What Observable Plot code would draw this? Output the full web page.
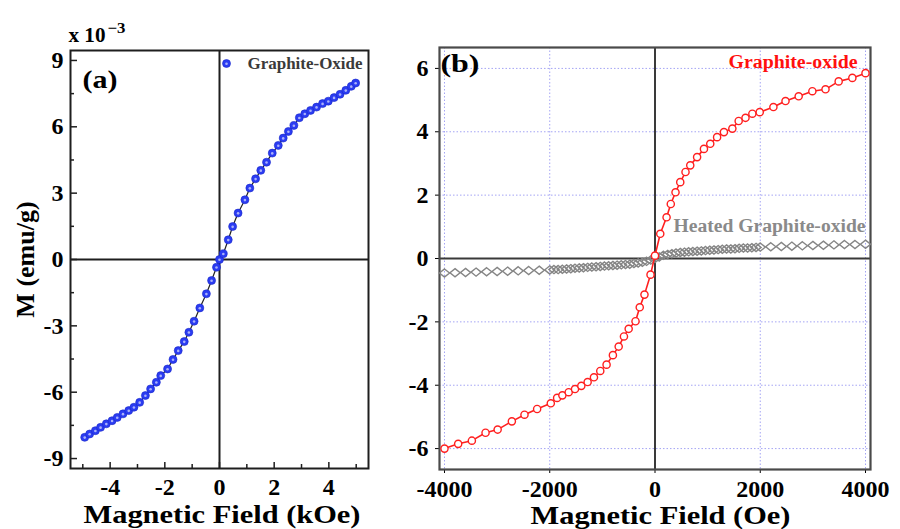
<!DOCTYPE html>
<html><head><meta charset="utf-8">
<script src="https://cdn.jsdelivr.net/npm/d3@7"></script>
<script src="https://cdn.jsdelivr.net/npm/@observablehq/plot@0.6"></script>
<style>
html,body{margin:0;padding:0;background:#fff;}
#wrap{position:relative;width:900px;height:529px;overflow:hidden;background:#fff;}
#pa{position:absolute;left:0;top:0;}
#pb{position:absolute;left:380px;top:0;}
</style></head><body><div id="wrap"><div id="pa"></div><div id="pb"></div></div>
<script>
// ---- Panel (a): Graphite-Oxide, field in kOe, M in 1e-3 emu/g
const aField = [-4.93,-4.75,-4.54,-4.35,-4.14,-3.93,-3.74,-3.53,-3.32,-3.13,-2.92,-2.71,-2.52,-2.31,-2.15,-1.90,-1.70,-1.51,-1.29,-1.12,-0.93,-0.72,-0.48,-0.29,-0.11,0,0.14,0.32,0.48,0.68,0.93,1.11,1.32,1.51,1.72,1.93,2.15,2.33,2.52,2.72,2.92,3.12,3.33,3.55,3.77,3.98,4.19,4.41,4.62,4.82,4.98];
const aM = [-8.04,-7.89,-7.74,-7.59,-7.43,-7.29,-7.14,-6.98,-6.83,-6.68,-6.46,-6.15,-5.85,-5.55,-5.25,-4.95,-4.52,-4.12,-3.71,-3.29,-2.79,-2.19,-1.55,-0.95,-0.35,0,0.26,0.89,1.49,2.10,2.70,3.23,3.65,4.03,4.40,4.81,5.16,5.49,5.79,6.06,6.41,6.59,6.74,6.89,7.05,7.16,7.32,7.47,7.65,7.83,7.98];
const aTicksX = [-4,-2,0,2,4];
const aMinorX = [-5,-3,-1,1,3,5];
const aTicksY = [-9,-6,-3,0,3,6,9];
const aMinorY = [-7.5,-4.5,-1.5,1.5,4.5,7.5];

// ---- Panel (b): field in Oe, M in emu/g
const goField = [-4000,-3740,-3480,-3220,-2990,-2720,-2480,-2240,-1980,-1860,-1760,-1640,-1520,-1400,-1280,-1160,-1040,-920,-800,-690,-590,-500,-370,-290,-200,-85,0,100,220,300,390,480,580,670,800,930,1050,1180,1310,1470,1590,1720,1850,1990,2250,2480,2730,2990,3240,3490,3750,4000];
const goM = [-6.00,-5.85,-5.75,-5.50,-5.40,-5.14,-4.93,-4.75,-4.57,-4.40,-4.32,-4.22,-4.12,-4.02,-3.90,-3.75,-3.55,-3.35,-3.05,-2.78,-2.46,-2.22,-1.98,-1.54,-1.14,-0.51,0.09,0.78,1.30,1.72,2.09,2.41,2.73,2.94,3.20,3.46,3.62,3.83,3.99,4.10,4.34,4.44,4.57,4.62,4.78,4.97,5.12,5.28,5.34,5.59,5.70,5.85];
const hgoField = [-4000,-3800,-3600,-3400,-3200,-3000,-2800,-2600,-2400,-2200,-2000,-1920,-1840,-1760,-1680,-1600,-1520,-1440,-1360,-1280,-1200,-1120,-1040,-960,-880,-800,-720,-640,-560,-480,-400,-320,-240,-160,-80,0,80,160,240,320,400,480,560,640,720,800,880,960,1040,1120,1200,1280,1360,1440,1520,1600,1680,1760,1840,1920,2000,2200,2400,2600,2800,3000,3200,3400,3600,3800,4000];
const hgoM = [-0.46,-0.45,-0.44,-0.43,-0.42,-0.41,-0.40,-0.39,-0.38,-0.37,-0.36,-0.35,-0.35,-0.34,-0.33,-0.32,-0.31,-0.30,-0.29,-0.28,-0.27,-0.26,-0.25,-0.24,-0.23,-0.22,-0.21,-0.20,-0.19,-0.18,-0.16,-0.14,-0.12,-0.09,-0.05,0,0.05,0.10,0.13,0.15,0.17,0.19,0.20,0.21,0.22,0.23,0.24,0.25,0.26,0.27,0.28,0.29,0.30,0.30,0.31,0.32,0.33,0.33,0.34,0.35,0.36,0.37,0.38,0.39,0.40,0.41,0.42,0.43,0.44,0.44,0.45];
const bTicksX = [-4000,-2000,0,2000,4000];
const bTicksY = [-6,-4,-2,0,2,4,6];

const FONT = "'Liberation Serif', 'Times New Roman', serif";
const fmt = d => String(d);

const aData = aField.map((x, i) => ({x, y: aM[i]}));
const goData = goField.map((x, i) => ({x, y: goM[i]}));
const hgoData = hgoField.map((x, i) => ({x, y: hgoM[i]}));

// a slightly wide open diamond, as in the reference
const wideDiamond = {
  draw(ctx, size) {
    const s = Math.sqrt(size / Math.PI);
    const w = s * 1.3, h = s * 1.05;
    ctx.moveTo(0, -h); ctx.lineTo(w, 0); ctx.lineTo(0, h); ctx.lineTo(-w, 0); ctx.closePath();
  }
};

// ---------- Panel (a)
const aW = 380, aH = 529, aML = 70, aMR = 12, aMT = 50, aMB = 61;
const aInnerW = aW - aML - aMR, aInnerH = aH - aMT - aMB;
const blue = "#2b3cf2";
const plotA = Plot.plot({
  width: aW, height: aH,
  marginLeft: aML, marginRight: aMR, marginTop: aMT, marginBottom: aMB,
  style: {fontFamily: FONT, fontSize: "24px", fontWeight: "bold", color: "#000", background: "#fff", overflow: "visible"},
  x: {domain: [-5.45, 5.45], ticks: aTicksX, tickSize: 0, tickPadding: 9, tickFormat: fmt, label: null},
  y: {domain: [-9.45, 9.45], ticks: aTicksY, tickSize: 0, tickPadding: 7, tickFormat: fmt, label: null},
  marks: [
    Plot.ruleX([0], {stroke: "#1e1e1e", strokeWidth: 2}),
    Plot.ruleY([0], {stroke: "#1e1e1e", strokeWidth: 2}),
    Plot.ruleY(aTicksY, {stroke: "#1e1e1e", strokeWidth: 1.5, insetRight: aInnerW - 7}),
    Plot.ruleY(aMinorY, {stroke: "#1e1e1e", strokeWidth: 1.5, insetRight: aInnerW - 4}),
    Plot.ruleX(aTicksX, {stroke: "#1e1e1e", strokeWidth: 1.5, insetTop: aInnerH - 6}),
    Plot.ruleX(aMinorX, {stroke: "#1e1e1e", strokeWidth: 1.5, insetTop: aInnerH - 4}),
    Plot.frame({stroke: "#1e1e1e", strokeWidth: 2}),
    Plot.line(aData, {x: "x", y: "y", stroke: "#222", strokeWidth: 1.2}),
    Plot.dot(aData, {x: "x", y: "y", r: 4, fill: blue, stroke: "#1a28c8", strokeWidth: 0.6}),
    Plot.dot(aData, {x: "x", y: "y", r: 1.3, fill: "#fff", fillOpacity: 0.6, dy: 0.3}),
    Plot.dot(["Graphite-Oxide"], {frameAnchor: "top-left", dx: 156, dy: 13, r: 4, fill: blue, stroke: "#1a28c8", strokeWidth: 0.6}),
    Plot.dot(["Graphite-Oxide"], {frameAnchor: "top-left", dx: 156, dy: 13.3, r: 1.3, fill: "#fff", fillOpacity: 0.6}),
    Plot.text(["Graphite-Oxide"], {text: d => d, frameAnchor: "top-left", dx: 177, dy: 13, textAnchor: "start", lineAnchor: "middle", fontSize: 16, fill: "#3a3a3a"}),
    Plot.text(["(a)"], {text: d => d, frameAnchor: "top-left", dx: 12, dy: 29, textAnchor: "start", lineAnchor: "middle", fontSize: 26, fill: "#000"}),
    Plot.text(["x 10"], {text: d => d, frameAnchor: "top-left", dx: -2, dy: -9, textAnchor: "start", lineAnchor: "bottom", fontSize: 21, fill: "#000"}),
    Plot.text(["\u22123"], {text: d => d, frameAnchor: "top-left", dx: 37, dy: -18, textAnchor: "start", lineAnchor: "bottom", fontSize: 15, fill: "#000"}),
    Plot.text(["Magnetic Field (kOe)"], {text: d => d, frameAnchor: "bottom-left", dx: 13, dy: 54, textAnchor: "start", lineAnchor: "bottom", fontSize: 25, fill: "#000"}),
    Plot.text(["M (emu/g)"], {text: d => d, frameAnchor: "left", dx: -45, dy: 0, rotate: -90, textAnchor: "middle", lineAnchor: "middle", fontSize: 26, fill: "#000"})
  ]
});

// ---------- Panel (b)
const bW = 520, bH = 529, bML = 59, bMR = 30, bMT = 47, bMB = 60;
const red = "#ff1f1f";
const gridStyle = {stroke: "#a4a4f4", strokeWidth: 1, strokeDasharray: "1.5,2"};
const plotB = Plot.plot({
  width: bW, height: bH,
  marginLeft: bML, marginRight: bMR, marginTop: bMT, marginBottom: bMB,
  style: {fontFamily: FONT, fontSize: "24px", fontWeight: "bold", color: "#000", background: "#fff", overflow: "visible"},
  x: {domain: [-4095, 4095], ticks: bTicksX, tickSize: 4, tickPadding: 6, tickFormat: fmt, label: null},
  y: {domain: [-6.66, 6.66], ticks: bTicksY, tickSize: 4, tickPadding: 7, tickFormat: fmt, label: null},
  marks: [
    Plot.ruleX(bTicksX, gridStyle),
    Plot.ruleY(bTicksY, gridStyle),
    Plot.ruleX([0], {stroke: "#3a3a3a", strokeWidth: 2}),
    Plot.ruleY([0], {stroke: "#3a3a3a", strokeWidth: 2}),
    Plot.frame({stroke: "#4a4a4a", strokeWidth: 2.2}),
    Plot.dot(hgoData, {x: "x", y: "y", symbol: wideDiamond, r: 3.9, stroke: "#858585", strokeWidth: 1.4, fill: "none"}),
    Plot.line(goData, {x: "x", y: "y", stroke: red, strokeWidth: 1.6}),
    Plot.dot(goData, {x: "x", y: "y", r: 3.6, stroke: red, strokeWidth: 1.4, fill: "#fff"}),
    Plot.text(["(b)"], {text: d => d, frameAnchor: "top-left", dx: 1, dy: 16, textAnchor: "start", lineAnchor: "middle", fontSize: 26, fill: "#000"}),
    Plot.text(["Graphite-oxide"], {text: d => d, frameAnchor: "top-left", dx: 289, dy: 15, textAnchor: "start", lineAnchor: "middle", fontSize: 18, fill: "#ff1010"}),
    Plot.text(["Heated Graphite-oxide"], {text: d => d, frameAnchor: "top-left", dx: 234, dy: 179, textAnchor: "start", lineAnchor: "middle", fontSize: 18, fill: "#8a8a8a"}),
    Plot.text(["Magnetic Field (Oe)"], {text: d => d, frameAnchor: "bottom-left", dx: 91, dy: 54, textAnchor: "start", lineAnchor: "bottom", fontSize: 25, fill: "#000"})
  ]
});

document.getElementById("pa").appendChild(plotA);
document.getElementById("pb").appendChild(plotB);

// horizontal stretch of the reference's lettering
const widths = {"Graphite-Oxide": 115, "(a)": 35, "x 10": 37, "\u22123": 18, "Magnetic Field (kOe)": 277,
  "(b)": 39, "Graphite-oxide": 129, "Heated Graphite-oxide": 192, "Magnetic Field (Oe)": 260};
for (const svg of [plotA, plotB]) {
  svg.querySelectorAll('g[aria-label="text"] text').forEach(t => {
    const w = widths[t.textContent];
    if (w != null) { t.setAttribute("textLength", w); t.setAttribute("lengthAdjust", "spacingAndGlyphs"); }
  });
}
</script></body></html>
